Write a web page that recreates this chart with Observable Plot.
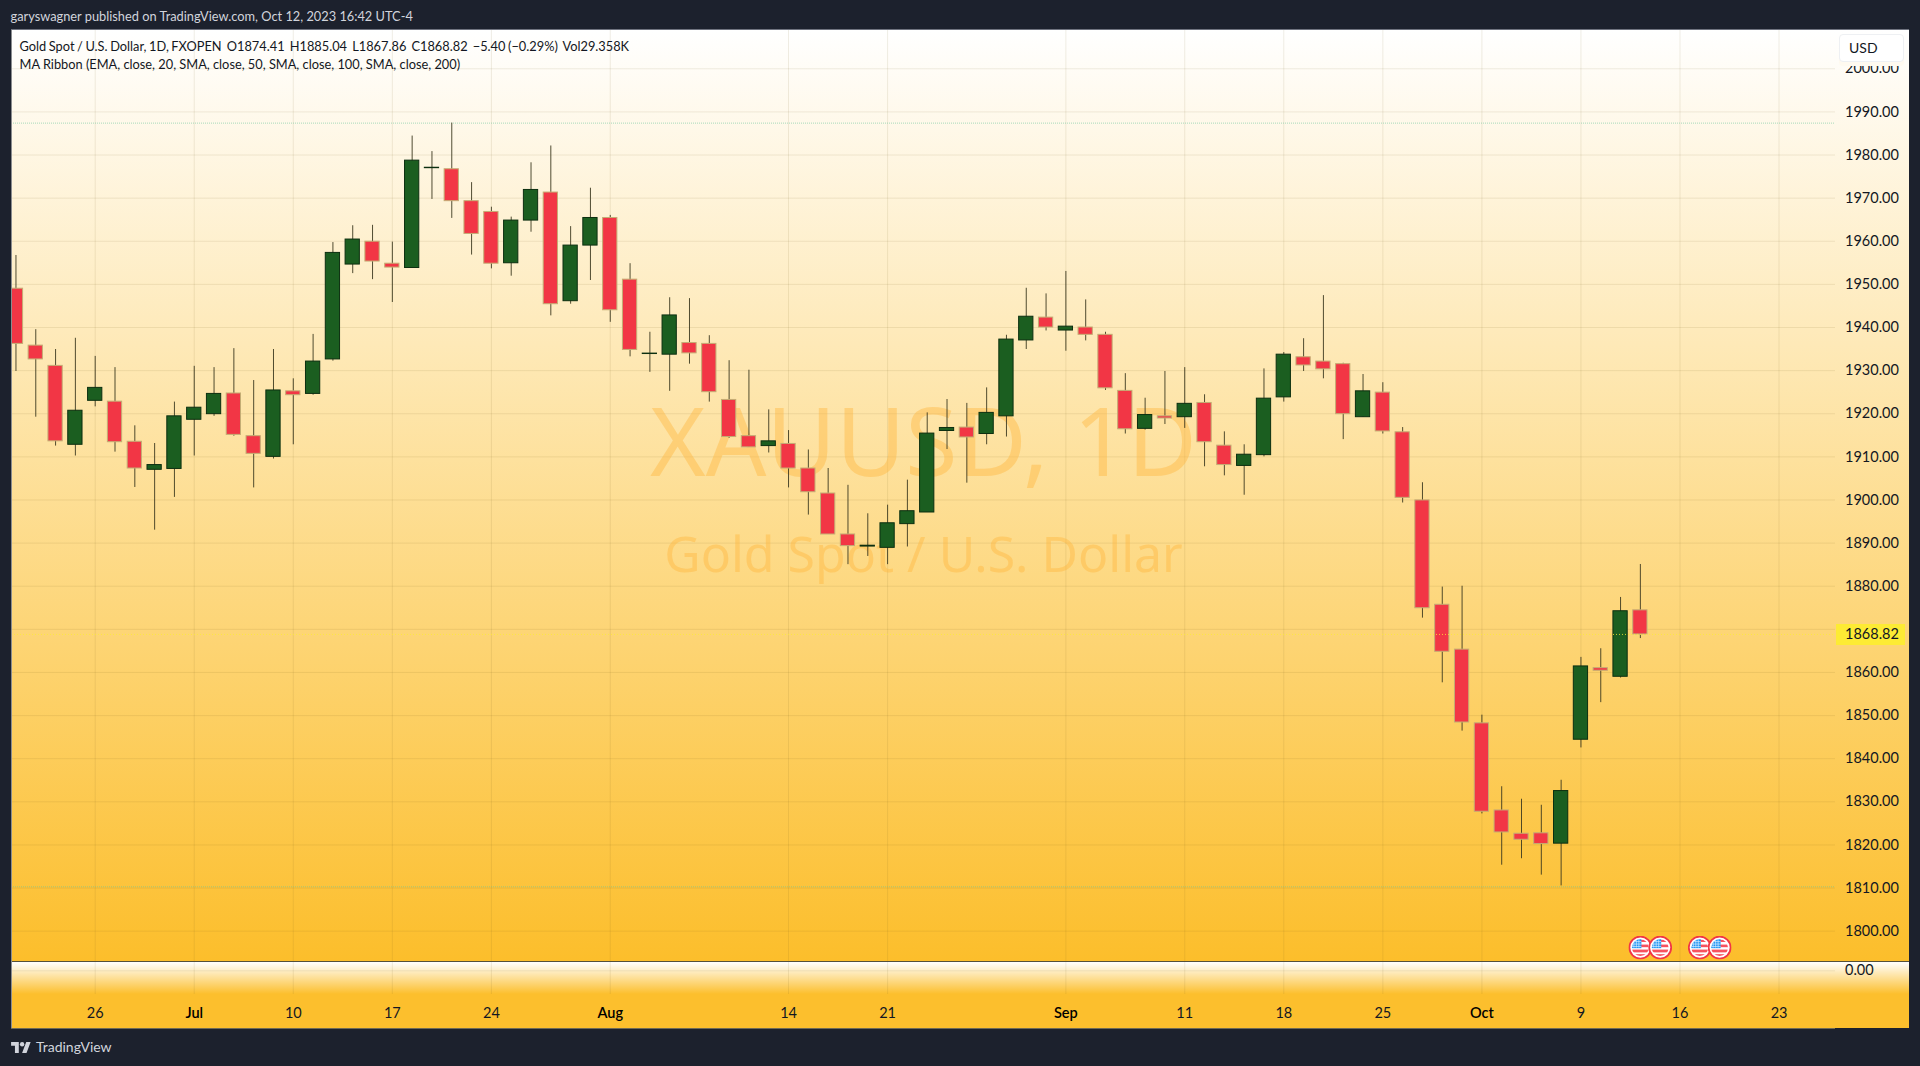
<!DOCTYPE html>
<html>
<head>
<meta charset="utf-8">
<script src="https://cdn.jsdelivr.net/npm/d3@7"></script>
<script src="https://cdn.jsdelivr.net/npm/@observablehq/plot@0.6"></script>
<style>
  html,body{margin:0;padding:0;width:1920px;height:1066px;overflow:hidden;background:#1c212d;font-family:Lato,"Noto Sans",sans-serif;}
  #pub{position:absolute;left:10.5px;top:8px;font-size:12.8px;line-height:17px;color:#d1d4dc;white-space:pre;}
  #chart{position:absolute;left:11px;top:29px;width:1898px;height:999px;border-top:1px solid #6f737f;}
  #pane{position:absolute;left:0;top:0;width:1898px;height:931px;background:linear-gradient(#ffffff 0%,#fcbe2b 100%);}
  #sub{position:absolute;left:0;top:931px;width:1898px;height:67px;background:linear-gradient(#ffffff 0,#fcbf2d 32px,#fcbf2d 100%);border-top:1px solid #55503a;box-sizing:border-box;}
  #edge{position:absolute;left:0;top:0;width:1px;height:998px;background:#8a8c8f;}
  #base{position:absolute;left:0;top:997.5px;width:1824px;height:1px;background:#6f6a55;}
  svg{display:block;}
  #legend{position:absolute;left:8.5px;top:7px;font-size:12.8px;line-height:18px;color:#131722;white-space:pre;}
  #legend .l1{word-spacing:-0.7px;}
  #usd{position:absolute;left:1828px;top:3.5px;width:65px;height:28px;box-sizing:border-box;background:#fff;border:1px solid #eef0f3;border-radius:4px;box-shadow:0 4px 0 #fffaf0;font-size:14px;line-height:26px;padding-left:9px;color:#131722;}
  #brand{position:absolute;left:11px;top:1041px;display:flex;align-items:center;gap:5px;color:#d1d4dc;font-size:14px;line-height:12px;}
</style>
</head>
<body>
<div id="pub">garyswagner published on TradingView.com, Oct 12, 2023 16:42 UTC-4</div>
<div id="chart">
  <div id="pane"></div>
  <div id="sub"></div>
  <div id="edge"></div>
  <div id="base"></div>
  <div id="legend"><span class="l1">Gold Spot / U.S. Dollar, 1D, FXOPEN  O1874.41  H1885.04  L1867.86  C1868.82  −5.40 (−0.29%)  Vol29.358K</span>
MA Ribbon (EMA, close, 20, SMA, close, 50, SMA, close, 100, SMA, close, 200)</div>
  <div id="usd">USD</div>
</div>
<div id="brand"><svg width="20" height="11" viewBox="0 0 36 20" fill="#d1d4dc"><path d="M14 20H7V7H0V0h14v20zM28 20h-8l7.5-20h8L28 20z"/><circle cx="20" cy="4" r="4"/></svg><span>TradingView</span></div>
<script>
const opens = [1949.0,1935.8,1931.1,1912.8,1923.0,1922.8,1913.5,1907.0,1907.2,1918.6,
1919.9,1924.7,1914.8,1910.0,1925.2,1924.6,1932.6,1954.6,1959.9,1954.8,
1953.8,1976.95,1976.7,1969.3,1966.8,1954.9,1964.8,1971.3,1946.1,1959.0,
1965.4,1951.1,1933.85,1933.7,1936.4,1936.2,1923.2,1914.8,1912.5,1913.0,
1907.3,1901.5,1892.0,1889.2,1888.9,1894.4,1897.1,1916.0,1916.8,1915.3,
1919.4,1937.0,1942.3,1939.3,1940.0,1938.3,1925.3,1916.5,1919.4,1919.2,
1922.5,1912.6,1907.9,1910.4,1923.8,1933.1,1932.1,1931.5,1919.2,1924.9,
1915.7,1899.9,1875.7,1865.3,1848.2,1828.0,1822.6,1822.7,1820.3,1844.4,
1861.0,1859.0,1874.41];
const closes = [1936.2,1932.6,1913.6,1920.7,1926.0,1913.4,1907.3,1908.1,1919.4,1921.4,
1924.6,1915.1,1910.7,1925.4,1924.3,1932.1,1957.3,1960.4,1955.3,1953.9,
1978.7,1977.05,1969.3,1961.7,1954.8,1964.8,1971.9,1945.4,1959.0,1965.4,
1944.0,1934.8,1933.95,1942.8,1934.0,1925.0,1914.6,1912.2,1913.6,1907.3,
1901.8,1892.0,1889.3,1889.4,1894.6,1897.4,1915.4,1916.7,1914.5,1920.2,
1937.2,1942.5,1940.0,1940.2,1938.3,1925.9,1916.4,1919.7,1918.9,1922.3,
1913.4,1908.1,1910.5,1923.5,1933.7,1931.2,1930.3,1919.9,1925.2,1915.9,
1900.5,1874.9,1864.8,1848.4,1827.7,1822.9,1821.2,1820.2,1832.5,1861.4,
1860.4,1874.2,1868.82];
const highs = [1956.7,1939.5,1934.9,1937.5,1933.3,1930.7,1917.2,1913.1,1922.7,1931.0,
1930.7,1935.1,1927.7,1934.9,1928.1,1938.4,1959.7,1963.6,1963.7,1959.8,
1984.4,1980.8,1987.4,1973.6,1967.9,1965.6,1978.2,1982.1,1963.4,1972.3,
1966.0,1954.8,1938.9,1946.9,1946.7,1938.1,1932.3,1930.1,1920.9,1916.1,
1911.6,1907.3,1903.4,1896.8,1898.8,1904.6,1920.2,1923.3,1922.4,1926.0,
1938.2,1949.1,1947.8,1953.0,1946.4,1938.9,1929.3,1923.6,1929.8,1930.7,
1924.4,1915.8,1912.8,1930.4,1934.2,1937.4,1947.4,1931.7,1929.1,1927.2,
1916.8,1904.0,1879.8,1880.0,1850.1,1833.5,1830.6,1829.2,1835.0,1863.5,
1865.5,1877.4,1885.04];
const lows = [1929.8,1919.2,1912.5,1910.2,1921.6,1911.1,1902.9,1893.0,1900.6,1910.2,
1919.4,1914.8,1902.8,1909.5,1912.8,1924.3,1932.2,1952.5,1951.1,1945.8,
1953.8,1969.7,1965.3,1956.8,1953.6,1951.9,1962.1,1942.7,1945.4,1950.9,
1941.2,1933.2,1929.6,1925.2,1931.5,1922.7,1914.3,1912.2,1910.9,1902.8,
1896.5,1892.0,1885.0,1886.9,1885.0,1889.1,1897.1,1911.7,1903.9,1912.8,
1914.6,1934.9,1939.2,1934.5,1936.9,1925.4,1915.3,1916.2,1917.5,1916.6,
1907.7,1905.6,1901.1,1910.0,1922.7,1929.8,1928.1,1914.0,1919.2,1915.3,
1899.3,1872.6,1857.6,1846.4,1827.2,1815.3,1816.8,1813.0,1810.5,1842.5,
1853.0,1858.7,1867.86];

const priceTicks = [1800,1810,1820,1830,1840,1850,1860,1870,1880,1890,1900,1910,1920,1930,1940,1950,1960,1970,1980,1990,2000];
const priceLabels = priceTicks.filter(p => p !== 1870);
const timeTicks = [4,9,14,19,24,30,39,44,53,59,64,69,74,79,84,89];
const timeLabels = ["26","Jul","10","17","24","Aug","14","21","Sep","11","18","25","Oct","9","16","23"];
const monthNames = ["Jul","Aug","Sep","Oct"];
const eventBars = [82,83,85,86];
const eventPrice = 1796.2;
const periodHigh = 1987.4, periodLow = 1810.3, lastClose = 1868.82;

const xDomain = [-0.225, 91.85];
const yDomain = [1792.97, 2008.88];
const bars = d3.range(opens.length);
const up = bars.filter(i => closes[i] >= opens[i]);
const down = bars.filter(i => closes[i] < opens[i]);
const halfBody = 0.36;
const GRID = "rgba(110,90,30,0.11)";
const FONT = 'Lato,"Noto Sans",sans-serif';
const MARK_FONT = '"Noto Sans",sans-serif';
const INK = "#131722";
const tickText = i => timeLabels[timeTicks.indexOf(i)];
const monthBars = timeTicks.filter(i => monthNames.includes(tickText(i)));
const dayBars = timeTicks.filter(i => !monthNames.includes(tickText(i)));

const flag = "data:image/svg+xml;utf8," + encodeURIComponent(
 `<svg xmlns="http://www.w3.org/2000/svg" viewBox="0 0 24 24"><defs><clipPath id="c"><circle cx="12" cy="12" r="8.4"/></clipPath></defs>
 <circle cx="12" cy="12" r="11" fill="#fff" stroke="#f23645" stroke-width="1.8"/>
 <g clip-path="url(#c)"><rect x="0" y="0" width="24" height="24" fill="#fff"/>
 <rect x="12" y="4" width="9" height="2.4" fill="#f7525f"/><rect x="12" y="9" width="9" height="2.6" fill="#f7525f"/><rect x="3" y="14" width="18" height="2.8" fill="#f7525f"/><rect x="3" y="18.6" width="18" height="3" fill="#f7525f"/>
 <rect x="3" y="3" width="10" height="9.6" fill="#2196f3"/>
 <path d="M5.5 4v8M8 4v8M10.5 4v8M3 6h10M3 8.5h10M3 11h10" stroke="#d6ecff" stroke-width=".7"/></g></svg>`);

const main = Plot.plot({
  width: 1898, height: 931,
  marginLeft: 0, marginRight: 74, marginTop: 0, marginBottom: 0,
  x: {type: "linear", domain: xDomain, axis: null},
  y: {type: "linear", domain: yDomain},
  style: {background: "transparent", fontFamily: FONT, overflow: "visible"},
  marks: [
    Plot.ruleY(priceTicks, {y: d => d, stroke: GRID}),
    Plot.ruleX(timeTicks, {x: d => d, stroke: GRID}),
    Plot.text(["XAUUSD, 1D"], {frameAnchor: "middle", dy: -50, fontSize: 95, fontFamily: MARK_FONT, fill: "#ffb43c", fillOpacity: 0.42}),
    Plot.text(["Gold Spot / U.S. Dollar"], {frameAnchor: "middle", dy: 60, fontSize: 50, fontFamily: MARK_FONT, fill: "#ffb43c", fillOpacity: 0.42}),
    Plot.ruleY([periodHigh, periodLow], {y: d => d, stroke: "#6cc79a", strokeOpacity: 0.6, strokeDasharray: "1,1"}),
    Plot.ruleX(bars, {x: i => i, y1: i => lows[i], y2: i => highs[i], stroke: "#3d3a20", strokeOpacity: 0.9, clip: true}),
    Plot.rect(up, {x1: i => i - halfBody, x2: i => i + halfBody, y1: i => opens[i], y2: i => closes[i], fill: "#1b5e20", stroke: "#0c2f10", clip: true}),
    Plot.rect(down, {x1: i => i - halfBody, x2: i => i + halfBody, y1: i => opens[i], y2: i => closes[i], fill: "#f23645", stroke: "#c4ad74", clip: true}),
    Plot.ruleY([lastClose], {y: d => d, stroke: "#fdeb34", strokeOpacity: 0.8, strokeDasharray: "1,2"}),
    Plot.image(eventBars, {x: d => d, y: () => eventPrice, width: 24, height: 24, src: () => flag}),
    Plot.axisY({anchor: "right", ticks: [lastClose], tickSize: 69, strokeWidth: 21, stroke: "#fdeb34", strokeOpacity: 1, tickFormat: () => "", label: null}),
    Plot.axisY({anchor: "right", ticks: priceLabels, tickSize: 0, tickPadding: 9.5, tickFormat: d3.format(".2f"), fontSize: 14.5, fill: INK, label: null}),
    Plot.axisY({anchor: "right", ticks: [lastClose], tickSize: 0, tickPadding: 9.5, tickFormat: d3.format(".2f"), fontSize: 14.5, fill: INK, label: null})
  ]
});
const lower = Plot.plot({
  width: 1898, height: 66,
  marginLeft: 0, marginRight: 74, marginTop: 0, marginBottom: 34,
  x: {type: "linear", domain: xDomain},
  y: {type: "linear", domain: [-23.7, 8.3]},
  style: {background: "transparent", fontFamily: FONT, overflow: "visible"},
  marks: [
    Plot.ruleY([0], {y: d => d, stroke: GRID}),
    Plot.ruleX(timeTicks, {x: d => d, stroke: GRID}),
    Plot.axisY({anchor: "right", ticks: [0], tickSize: 0, tickPadding: 9.5, tickFormat: d3.format(".2f"), fontSize: 14.5, fill: INK, label: null}),
    Plot.axisX({anchor: "bottom", ticks: dayBars, tickSize: 0, tickPadding: 13, tickFormat: tickText, fontSize: 14.5, fill: INK, label: null}),
    Plot.axisX({anchor: "bottom", ticks: monthBars, tickSize: 0, tickPadding: 13, tickFormat: tickText, fontSize: 14.5, fontWeight: 600, fill: "#000", label: null})
  ]
});
document.getElementById("pane").appendChild(main);
document.getElementById("sub").appendChild(lower);
</script>
</body>
</html>
